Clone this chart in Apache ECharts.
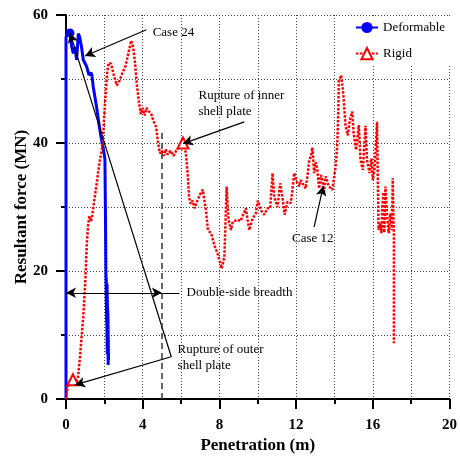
<!DOCTYPE html>
<html>
<head>
<meta charset="utf-8">
<script src="https://cdn.jsdelivr.net/npm/echarts@6/dist/echarts.min.js"></script>
<style>
  html, body { margin: 0; padding: 0; background: #fff; }
  #chart { width: 460px; height: 462px; }
</style>
</head>
<body>
<div id="chart"></div>
<script>
// 数据：穿透深度 (m) / 合力 (MN)
const xLabels = [0, 4, 8, 12, 16, 20];
const yLabels = [0, 20, 40, 60];

const deformable = [
    [0, 0], [0, 56.5], [0.1, 57.2], [0.21, 57.2], [0.3, 55], [0.38, 54], [0.47, 55], [0.55, 53],
    [0.6, 55], [0.64, 57.1], [0.72, 56.5], [0.81, 55], [0.9, 53], [1.07, 52], [1.2, 50.6],
    [1.25, 50.4], [1.3, 51], [1.35, 50.6], [1.42, 48.8], [1.59, 45.7], [1.77, 42], [1.85, 40.5],
    [1.95, 39], [2.03, 37.5], [2.06, 28], [2.08, 20], [2.12, 12], [2.1, 19], [2.15, 7],
    [2.14, 18], [2.2, 5.3], [2.18, 14], [2.22, 6], [2.15, 16], [2.2, 8]
];
const deformableMarks = [[0.21, 57.2]];

const rigid = [
    [0, 0], [0.05, 1.2], [0.1, 2.2], [0.2, 2.6], [0.36, 3], [0.5, 2.4], [0.62, 3.2], [0.73, 6.6],
    [0.82, 10], [0.9, 12.8], [1.0, 18], [1.08, 24], [1.15, 27], [1.22, 28.6], [1.3, 27.8],
    [1.35, 28.3], [1.45, 30.5], [1.6, 33.7], [1.75, 37], [1.87, 39], [1.95, 42], [2.05, 47],
    [2.15, 51], [2.22, 52.5], [2.35, 52.4], [2.5, 50.5], [2.65, 49], [2.8, 49.8], [2.95, 51],
    [3.1, 52], [3.25, 54], [3.4, 56], [3.5, 55], [3.6, 52.5], [3.7, 49], [3.8, 46.5], [3.9, 44.5],
    [4.0, 45.5], [4.1, 44.3], [4.2, 45.5], [4.3, 45], [4.45, 44.5], [4.55, 43.5], [4.7, 42.5],
    [4.8, 40], [4.9, 38.4], [5.0, 38.8], [5.1, 38], [5.2, 39], [5.3, 38.2], [5.45, 38.8],
    [5.6, 38], [5.75, 38.8], [5.9, 39.3], [6.1, 40], [6.25, 38.5], [6.35, 35], [6.42, 31.5],
    [6.5, 30.5], [6.6, 31], [6.7, 29.8], [6.85, 31], [7.0, 32], [7.13, 32.7], [7.22, 31],
    [7.3, 29.5], [7.4, 26.4], [7.5, 26.5], [7.57, 25.9], [7.74, 24], [7.9, 22.8], [8.12, 20.4],
    [8.26, 22.2], [8.32, 28], [8.38, 33.2], [8.43, 30], [8.48, 28], [8.6, 26.4], [8.7, 27.7],
    [8.8, 27.5], [8.95, 28], [9.1, 27.8], [9.2, 28.5], [9.38, 29.8], [9.47, 28], [9.56, 26.4],
    [9.73, 28.2], [9.9, 29], [10.0, 31], [10.16, 29.5], [10.34, 28.8], [10.5, 29.8],
    [10.65, 29.8], [10.72, 33], [10.77, 35.3], [10.86, 31.6], [11.03, 30], [11.17, 33.7],
    [11.3, 31.3], [11.4, 28.8], [11.55, 30.8], [11.72, 30.6], [11.82, 33], [11.9, 35.3],
    [12.07, 33.7], [12.16, 33.2], [12.24, 34.2], [12.33, 34.5], [12.5, 32.9], [12.6, 35],
    [12.68, 37.3], [12.78, 38], [12.85, 39.3], [12.94, 35.3], [13.02, 37], [13.1, 36],
    [13.2, 32.9], [13.3, 35], [13.37, 34.2], [13.45, 32.1], [13.54, 34.8], [13.7, 33.2],
    [13.89, 32.7], [14.06, 36.3], [14.15, 39.9], [14.2, 45], [14.23, 49.8], [14.3, 50.2],
    [14.35, 50.6], [14.46, 47.7], [14.58, 42.6], [14.7, 41.2], [14.8, 43.6], [14.93, 44.9],
    [15.0, 41.5], [15.13, 38.9], [15.27, 42.8], [15.36, 37.3], [15.48, 35.8], [15.62, 42.7],
    [15.7, 37.3], [15.83, 35.3], [15.93, 37.6], [16.0, 34.2], [16.1, 36.3], [16.22, 43.3],
    [16.3, 26.4], [16.4, 27.5], [16.45, 25.9], [16.5, 30], [16.55, 32.3], [16.6, 26],
    [16.66, 33.2], [16.75, 28.5], [16.83, 25.9], [16.92, 29], [17.0, 26.4], [17.04, 34.5],
    [17.08, 28], [17.1, 25.9], [17.1, 8.7]
];
const rigidMarks = [[0.36, 3], [6.1, 40]];

// 标注（数据坐标）
const arrows = [
    [[4.19, 57.7], [0.99, 53.6]],
    [[5.49, 6.6], [0.21, 57.2]],
    [[5.49, 6.6], [0.47, 2.2]],
    [[9.3, 43.3], [6.1, 39.9]],
    [[12.94, 26.9], [13.42, 33.3]],
    [[5.92, 16.6], [0, 16.6]],
    [[2.6, 16.6], [5, 16.6]]
];
const dashedLine = [[5, 0], [5, 42]];
const notes = [
    ['Case 24', [4.52, 57.3]],
    ['Rupture of inner\nshell plate', [6.91, 46.1]],
    ['Case 12', [11.79, 25.1]],
    ['Double-side breadth', [6.29, 16.6]],
    ['Rupture of outer\nshell plate', [5.82, 6.4]]
];

const serif = 'Liberation Serif, Times New Roman, serif';
const gridLine = { show: true, lineStyle: { color: '#444', type: [1, 2], width: 1 } };

function withMarks(points, marks, symbol) {
    return points.map(p => {
        const hit = marks.some(m => m[0] === p[0] && m[1] === p[1]);
        return { value: p, symbol: hit ? symbol : 'none' };
    });
}

const chart = echarts.init(document.getElementById('chart'));

const option = {
    animation: false,
    backgroundColor: '#fff',
    grid: { left: 66, right: 9, top: 15, bottom: 63 },
    legend: {
        data: ['Deformable', 'Rigid'],
        orient: 'vertical',
        left: 350,
        top: 16,
        itemWidth: 22,
        itemHeight: 14,
        itemGap: 13,
        backgroundColor: '#fff',
        padding: [5, 8, 5, 5],
        textStyle: { fontFamily: serif, fontSize: 13, color: '#000' }
    },
    xAxis: {
        type: 'value',
        min: 0, max: 20, interval: 4,
        name: 'Penetration (m)',
        nameLocation: 'middle',
        nameGap: 38,
        nameMoveOverlap: false,
        nameTextStyle: { fontFamily: serif, fontSize: 17, fontWeight: 'bold', color: '#000' },
        axisLine: { lineStyle: { color: '#000', width: 2 } },
        axisTick: { length: 10, lineStyle: { width: 2 } },
        minorTick: { show: true, splitNumber: 2, length: 5, lineStyle: { color: '#000', width: 2 } },
        axisLabel: {
            margin: 19,
            fontFamily: serif, fontSize: 15, fontWeight: 'bold', color: '#000',
            formatter: v => xLabels.includes(v) ? String(v) : ''
        },
        splitLine: gridLine,
        minorSplitLine: gridLine
    },
    yAxis: {
        type: 'value',
        min: 0, max: 60, interval: 20,
        name: 'Resultant force (MN)',
        nameLocation: 'middle',
        nameGap: 36,
        nameMoveOverlap: false,
        nameTextStyle: { fontFamily: serif, fontSize: 17, fontWeight: 'bold', color: '#000' },
        axisLine: { show: true, lineStyle: { color: '#000', width: 2 } },
        axisTick: { show: true, length: 10, lineStyle: { width: 2 } },
        minorTick: { show: true, splitNumber: 2, length: 5, lineStyle: { color: '#000', width: 2 } },
        axisLabel: {
            margin: 18,
            fontFamily: serif, fontSize: 15, fontWeight: 'bold', color: '#000',
            formatter: v => yLabels.includes(v) ? String(v) : ''
        },
        splitLine: gridLine,
        minorSplitLine: gridLine
    },
    series: [
        {
            name: 'Deformable',
            type: 'line',
            data: withMarks(deformable, deformableMarks, 'circle'),
            symbol: 'circle',
            symbolSize: 9,
            showAllSymbol: true,
            lineStyle: { color: '#0000ff', width: 3 },
            itemStyle: { color: '#0000ff' },
            z: 2
        },
        {
            name: 'Rigid',
            type: 'line',
            data: withMarks(rigid, rigidMarks, 'triangle'),
            symbol: 'triangle',
            symbolSize: 11,
            showAllSymbol: true,
            lineStyle: { color: '#ff0000', width: 2.5, type: [2.5, 1.5] },
            itemStyle: { color: '#fff', borderColor: '#ff0000', borderWidth: 2 },
            z: 3
        },
        {
            // 标注层
            type: 'line',
            data: [],
            silent: true,
            z: 4,
            markLine: {
                silent: true,
                animation: false,
                symbol: ['none', 'arrow'],
                symbolSize: [8, 10],
                label: { show: false },
                emphasis: { disabled: true },
                lineStyle: { color: '#000', width: 1.2, type: 'solid' },
                data: arrows.map(a => [{ coord: a[0] }, { coord: a[1] }]).concat([[
                    { coord: dashedLine[0], symbol: 'none', lineStyle: { color: '#333', width: 1.5, type: [6, 4] } },
                    { coord: dashedLine[1], symbol: 'none' }
                ]])
            },
            markPoint: {
                silent: true,
                animation: false,
                symbol: 'circle',
                symbolSize: 0,
                label: {
                    show: true,
                    position: 'inside',
                    align: 'left',
                    verticalAlign: 'middle',
                    fontFamily: serif,
                    fontSize: 13,
                    lineHeight: 16,
                    color: '#000',
                    formatter: p => p.name
                },
                data: notes.map(n => ({ name: n[0], coord: n[1] }))
            }
        }
    ]
};

chart.setOption(option);
</script>
</body>
</html>
